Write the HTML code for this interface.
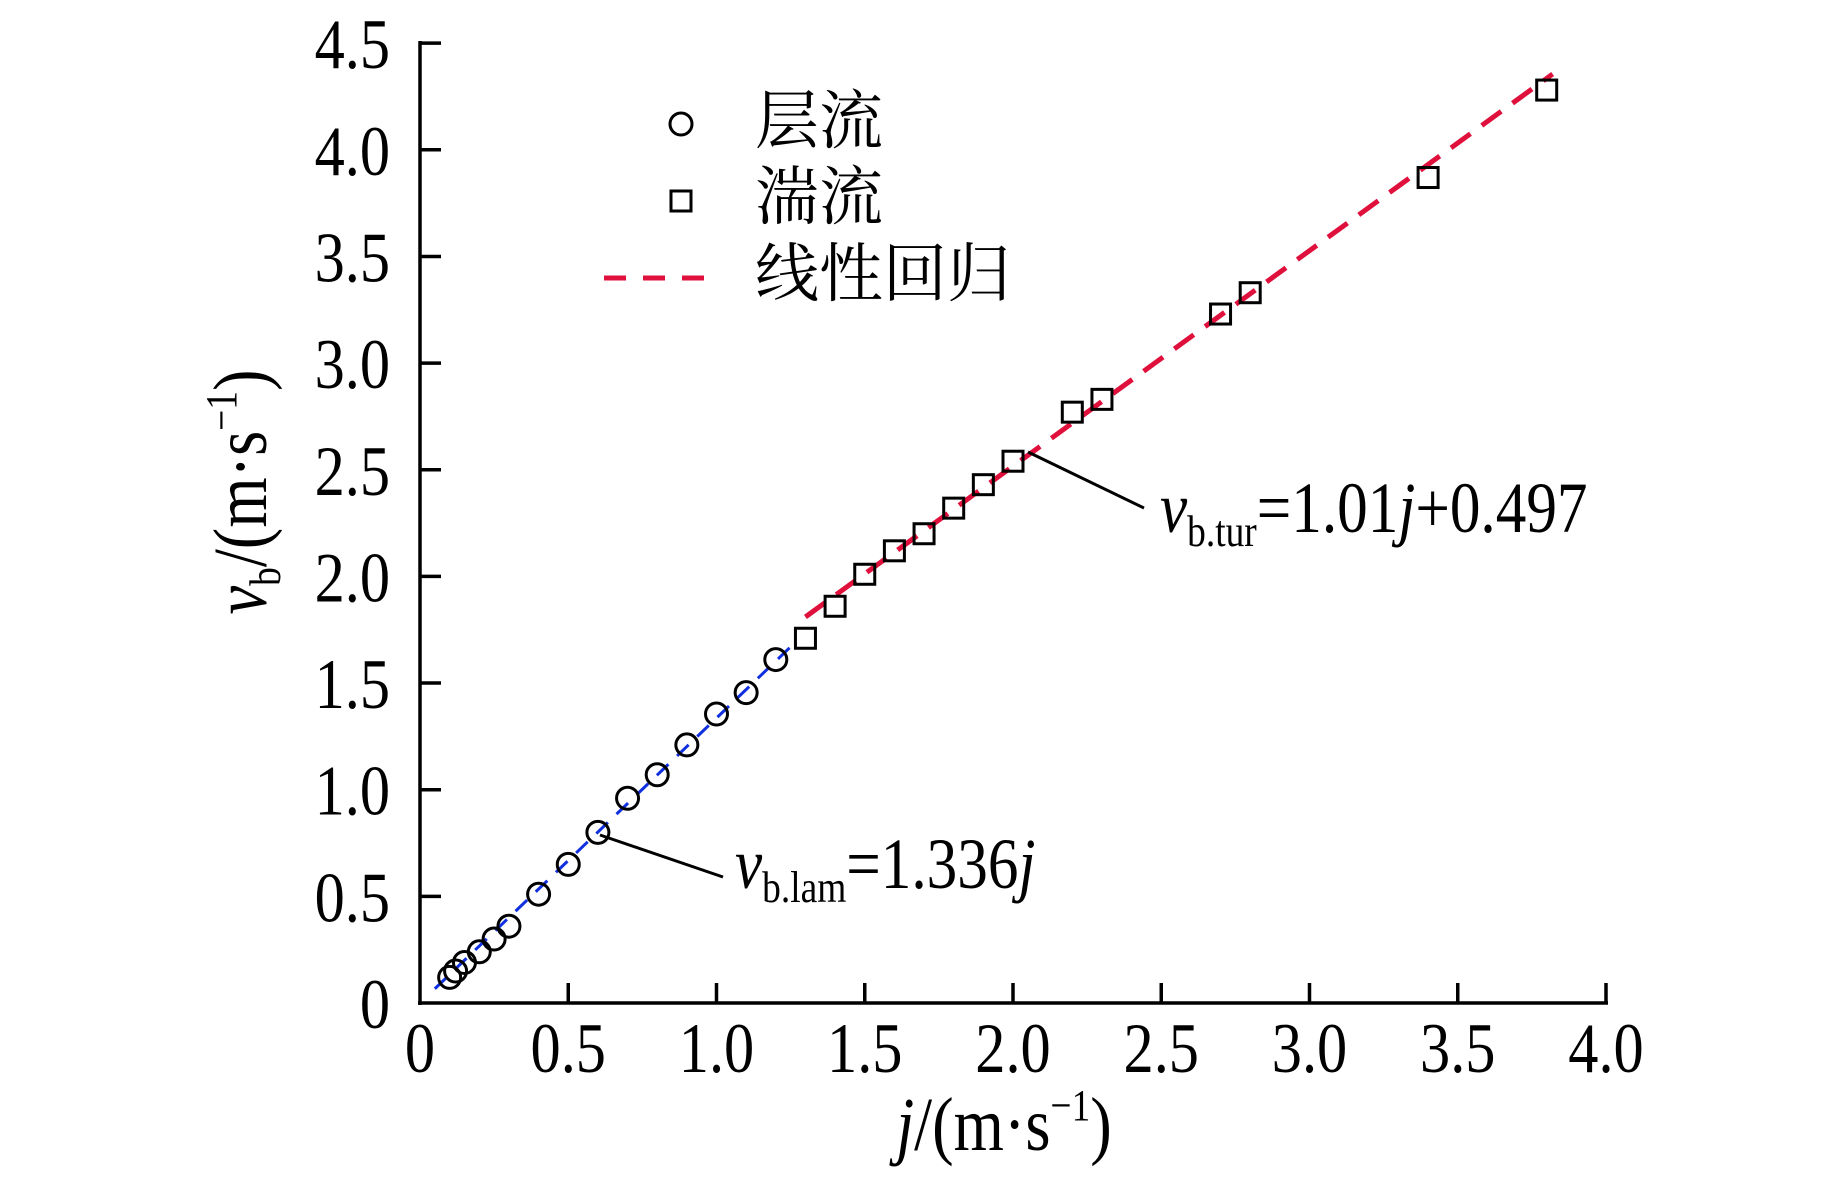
<!DOCTYPE html>
<html><head><meta charset="utf-8"><style>
html,body{margin:0;padding:0;background:#fff;}
svg{display:block;}
text{font-family:"Liberation Serif","Noto Serif CJK SC",serif;fill:#000;}
</style></head><body>
<svg id="s" width="1843" height="1179" viewBox="0 0 1843 1179" xmlns="http://www.w3.org/2000/svg">
<g stroke="#000" stroke-width="3.5" fill="none">
<line x1="420" y1="41" x2="420" y2="1005"/>
<line x1="418" y1="1003" x2="1608" y2="1003"/>
</g>
<g id="ticks" stroke="#000" stroke-width="3.5"></g>
<g id="labels"></g>
<g id="lines" fill="none" stroke-width="3.5"></g>
<g id="pts" fill="none" stroke="#000" stroke-width="3"></g>
<!-- legend -->
<circle cx="681" cy="124" r="11" fill="none" stroke="#000" stroke-width="3"/>
<rect x="671" y="191" width="20" height="20" fill="none" stroke="#000" stroke-width="3"/>
<line x1="604" y1="278" x2="717" y2="278" stroke="#e0103c" stroke-width="5" stroke-dasharray="22,17"/>
<text x="755" y="143" font-size="64">层流</text>
<text x="755" y="219" font-size="64">湍流</text>
<text x="755" y="296" font-size="64">线性回归</text>
<!-- annotations -->
<line x1="600" y1="835" x2="723" y2="877" stroke="#000" stroke-width="3"/>
<line x1="1028" y1="452" x2="1144" y2="508" stroke="#000" stroke-width="3"/>
<g transform="translate(735,888) scale(0.85,1)"><text x="0" y="0" font-size="72"><tspan font-style="italic">v</tspan><tspan font-size="44" dy="14">b.lam</tspan><tspan dy="-14">=1.336</tspan><tspan font-style="italic">j</tspan></text></g>
<g transform="translate(1160,532) scale(0.85,1)"><text x="0" y="0" font-size="72"><tspan font-style="italic">v</tspan><tspan font-size="44" dy="14">b.tur</tspan><tspan dy="-14">=1.01</tspan><tspan font-style="italic">j</tspan><tspan>+0.497</tspan></text></g>
<!-- axis titles -->
<g transform="translate(1004,1150) scale(0.85,1)"><text x="0" y="0" font-size="76" text-anchor="middle"><tspan font-style="italic">j</tspan>/(m·s<tspan font-size="44" dy="-30">−1</tspan><tspan dy="30">)</tspan></text></g>
<g transform="translate(266,492) rotate(-90) scale(0.85,1)"><text x="0" y="0" font-size="76" text-anchor="middle"><tspan font-style="italic">v</tspan><tspan font-size="44" dy="14">b</tspan><tspan dy="-14">/(m·s</tspan><tspan font-size="44" dy="-30">−1</tspan><tspan dy="30">)</tspan></text></g>
</svg>
<script>
const NS="http://www.w3.org/2000/svg";
const X=j=>420+296.5*j, Y=v=>1003-213.3*v;
function el(p,t,a,txt){const e=document.createElementNS(NS,t);for(const k in a)e.setAttribute(k,a[k]);if(txt!==undefined)e.textContent=txt;document.getElementById(p).appendChild(e);return e;}
for(let i=1;i<=9;i++){const y=Y(i*0.5);el("ticks","line",{x1:420,y1:y,x2:441,y2:y});}
for(let i=1;i<=8;i++){const x=X(i*0.5);el("ticks","line",{x1:x,y1:1003,x2:x,y2:983});}
for(let i=0;i<=9;i++){const v=i*0.5;const g=el("labels","g",{transform:`translate(390,${Y(v)+25}) scale(0.85,1)`});const t=document.createElementNS(NS,"text");t.setAttribute("text-anchor","end");t.setAttribute("font-size","71");t.textContent=i==0?"0":v.toFixed(1);g.appendChild(t);}
for(let i=0;i<=8;i++){const j=i*0.5;const g=el("labels","g",{transform:`translate(${X(j)},1072) scale(0.85,1)`});const t=document.createElementNS(NS,"text");t.setAttribute("text-anchor","middle");t.setAttribute("font-size","71");t.textContent=i==0?"0":j.toFixed(1);g.appendChild(t);}
el("lines","line",{x1:X(0.05),y1:Y(0.05*1.336),x2:X(1.25),y2:Y(1.25*1.336),stroke:"#1030e0","stroke-width":3,"stroke-dasharray":"16,12"});
el("lines","line",{x1:X(1.3),y1:Y(1.01*1.3+0.497),x2:X(3.82),y2:Y(1.01*3.82+0.497),stroke:"#e0103c","stroke-width":5,"stroke-dasharray":"24,14"});
const circ=[[0.1,0.12],[0.12,0.15],[0.15,0.19],[0.2,0.24],[0.25,0.3],[0.3,0.36],[0.4,0.51],[0.5,0.65],[0.6,0.8],[0.7,0.96],[0.8,1.07],[0.9,1.21],[1.0,1.355],[1.1,1.455],[1.2,1.61]];
circ.forEach(([j,v])=>el("pts","circle",{cx:X(j),cy:Y(v),r:11}));
const sq=[[1.3,1.71],[1.4,1.86],[1.5,2.01],[1.6,2.12],[1.7,2.2],[1.8,2.32],[1.9,2.43],[2.0,2.54],[2.2,2.77],[2.3,2.83],[2.7,3.23],[2.8,3.33],[3.4,3.87],[3.8,4.28]];
sq.forEach(([j,v])=>el("pts","rect",{x:X(j)-10,y:Y(v)-10,width:20,height:20}));
</script>
</body></html>
